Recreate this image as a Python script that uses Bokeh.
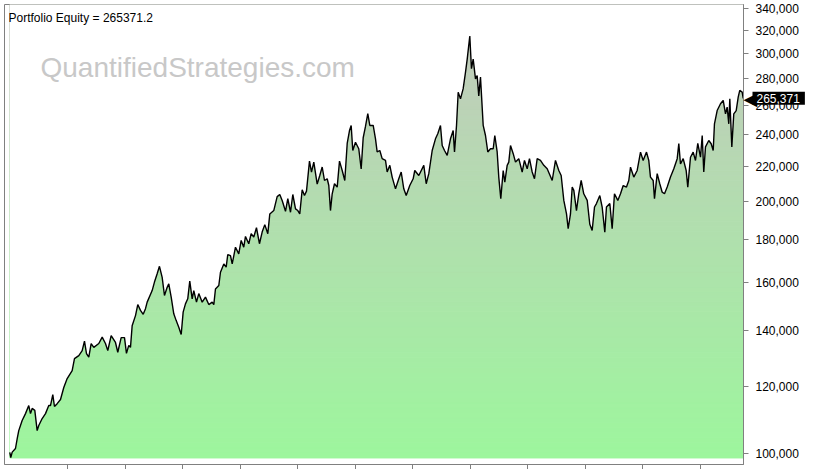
import numpy as np
from bokeh.plotting import figure
from bokeh.models import (Range1d, FixedTicker, NumeralTickFormatter, Label, Span,
                          CustomJSTickFormatter)
from bokeh.embed import file_html
from bokeh.resources import INLINE

# ---- data ----
years = [
    2010.988, 2011.005, 2011.030, 2011.087, 2011.117, 2011.144, 2011.203, 2011.261, 2011.318, 2011.348,
    2011.377, 2011.423, 2011.464, 2011.492, 2011.551, 2011.609, 2011.666, 2011.696, 2011.736, 2011.765,
    2011.812, 2011.870, 2011.927, 2011.986, 2012.073, 2012.113, 2012.188, 2012.247, 2012.287, 2012.322,
    2012.362, 2012.403, 2012.449, 2012.536, 2012.595, 2012.652, 2012.692, 2012.751, 2012.826, 2012.866,
    2012.925, 2012.983, 2013.017, 2013.057, 2013.087, 2013.116, 2013.174, 2013.214, 2013.261, 2013.308,
    2013.348, 2013.377, 2013.464, 2013.504, 2013.551, 2013.591, 2013.638, 2013.678, 2013.725, 2013.753,
    2013.795, 2013.840, 2013.882, 2013.927, 2013.969, 2014.003, 2014.043, 2014.083, 2014.118, 2014.160,
    2014.188, 2014.235, 2014.275, 2014.334, 2014.391, 2014.449, 2014.508, 2014.536, 2014.565, 2014.623,
    2014.652, 2014.710, 2014.751, 2014.779, 2014.826, 2014.856, 2014.913, 2014.970, 2015.012, 2015.057,
    2015.087, 2015.144, 2015.186, 2015.231, 2015.278, 2015.330, 2015.377, 2015.423, 2015.475, 2015.510,
    2015.579, 2015.638, 2015.683, 2015.725, 2015.783, 2015.823, 2015.870, 2015.910, 2015.957, 2015.997,
    2016.031, 2016.073, 2016.113, 2016.148, 2016.200, 2016.235, 2016.275, 2016.334, 2016.379, 2016.421,
    2016.461, 2016.508, 2016.536, 2016.565, 2016.595, 2016.635, 2016.682, 2016.722, 2016.769, 2016.814,
    2016.856, 2016.896, 2016.925, 2016.953, 2017.000, 2017.057, 2017.099, 2017.134, 2017.174, 2017.214,
    2017.249, 2017.308, 2017.348, 2017.377, 2017.423, 2017.464, 2017.522, 2017.551, 2017.597, 2017.638,
    2017.696, 2017.753, 2017.795, 2017.840, 2017.882, 2017.944, 2018.003, 2018.031, 2018.101, 2018.188,
    2018.230, 2018.275, 2018.334, 2018.391, 2018.431, 2018.478, 2018.508, 2018.548, 2018.595, 2018.652,
    2018.699, 2018.722, 2018.757, 2018.786, 2018.826, 2018.873, 2018.913, 2018.943, 2018.988, 2019.017,
    2019.047, 2019.087, 2019.116, 2019.144, 2019.174, 2019.221, 2019.261, 2019.301, 2019.348, 2019.395,
    2019.423, 2019.464, 2019.492, 2019.527, 2019.569, 2019.597, 2019.638, 2019.666, 2019.696, 2019.743,
    2019.783, 2019.840, 2019.899, 2019.939, 2019.986, 2020.026, 2020.073, 2020.113, 2020.160, 2020.217,
    2020.275, 2020.334, 2020.421, 2020.478, 2020.536, 2020.577, 2020.623, 2020.670, 2020.699, 2020.739,
    2020.769, 2020.797, 2020.843, 2020.883, 2020.925, 2020.970, 2021.030, 2021.075, 2021.116, 2021.157,
    2021.191, 2021.249, 2021.290, 2021.336, 2021.365, 2021.423, 2021.464, 2021.504, 2021.562, 2021.609,
    2021.656, 2021.713, 2021.753, 2021.783, 2021.840, 2021.899, 2021.957, 2022.003, 2022.061, 2022.101,
    2022.130, 2022.177, 2022.200, 2022.247, 2022.292, 2022.334, 2022.374, 2022.421, 2022.478, 2022.536,
    2022.595, 2022.623, 2022.652, 2022.699, 2022.751, 2022.779, 2022.826, 2022.873, 2022.913, 2022.953,
    2023.000, 2023.030, 2023.057, 2023.087, 2023.144, 2023.186, 2023.221, 2023.243, 2023.290, 2023.348,
    2023.395, 2023.435, 2023.464, 2023.492, 2023.510, 2023.545, 2023.579, 2023.621, 2023.656, 2023.683,
    2023.725, 2023.743,
]

equity_k = [
    100.2, 98.8, 100.3, 101.3, 104.1, 106.4, 109.4, 111.5, 114.0, 111.5,
    113.1, 112.5, 106.4, 107.9, 110.0, 111.5, 114.0, 114.0, 117.5, 113.7,
    114.6, 115.9, 119.8, 122.8, 125.5, 129.7, 130.8, 132.6, 136.1, 131.5,
    130.2, 135.2, 133.8, 135.2, 137.6, 135.2, 132.6, 138.2, 135.6, 132.0,
    137.4, 137.4, 131.6, 134.5, 133.8, 142.0, 146.0, 150.5, 148.1, 146.5,
    148.8, 151.5, 156.4, 160.1, 163.8, 167.2, 162.2, 154.3, 157.8, 159.3,
    153.6, 146.7, 144.0, 141.4, 138.6, 147.4, 150.8, 152.9, 160.5, 152.9,
    156.4, 151.5, 155.1, 151.5, 153.6, 150.5, 151.5, 150.5, 157.1, 158.6,
    164.5, 168.3, 166.8, 172.7, 172.2, 168.3, 176.2, 173.0, 179.5, 176.2,
    181.5, 177.9, 182.9, 181.2, 185.9, 177.9, 183.7, 187.5, 182.9, 193.1,
    194.9, 202.5, 203.7, 200.4, 194.5, 201.4, 194.0, 203.7, 195.8, 194.9,
    193.1, 206.4, 203.1, 205.6, 223.3, 216.6, 222.7, 209.6, 214.6, 219.7,
    211.7, 212.7, 208.8, 194.9, 204.1, 209.8, 207.9, 223.3, 217.6, 211.7,
    234.4, 242.9, 246.3, 229.9, 235.2, 231.0, 218.6, 238.1, 245.6, 254.5,
    246.3, 246.3, 237.4, 229.0, 229.9, 224.8, 223.7, 216.7, 220.7, 213.7,
    206.9, 212.7, 216.7, 206.9, 203.1, 208.8, 212.7, 217.6, 214.6, 220.7,
    209.8, 215.7, 229.9, 237.4, 240.7, 246.3, 233.1, 229.9, 226.8, 237.4,
    242.9, 229.0, 246.3, 269.9, 265.0, 272.5, 285.0, 295.6, 315.0, 287.9,
    295.6, 280.0, 282.6, 267.2, 281.3, 246.3, 239.6, 229.0, 231.0, 231.0,
    239.6, 229.0, 213.7, 201.4, 217.6, 210.7, 220.7, 222.7, 233.1, 227.9,
    222.7, 224.8, 216.7, 223.7, 218.6, 224.8, 216.7, 212.7, 224.8, 223.7,
    220.7, 218.6, 211.7, 223.7, 217.6, 214.6, 200.4, 193.1, 185.4, 193.1,
    207.9, 206.0, 194.9, 204.1, 211.7, 204.1, 200.4, 187.7, 184.5, 196.8,
    198.7, 203.1, 196.8, 183.6, 196.8, 198.7, 185.4, 204.1, 200.4, 204.1,
    208.8, 207.9, 211.7, 219.6, 213.7, 217.6, 228.9, 223.7, 228.9, 223.7,
    213.7, 211.7, 201.4, 215.7, 209.8, 205.0, 204.1, 207.9, 213.7, 218.6,
    224.8, 234.4, 221.5, 224.8, 217.6, 207.9, 225.7, 228.9, 223.7, 234.4,
    225.7, 239.6, 216.7, 232.2, 236.3, 234.2, 229.9, 247.4, 256.6, 261.4,
    263.8, 254.3, 259.0, 247.4, 265.0, 232.2, 254.3, 256.6, 266.2, 271.2,
    270.0, 265.3712,
]

y_ticks = [100000, 120000, 140000, 160000, 180000, 200000, 220000, 240000,
           260000, 280000, 300000, 320000, 340000]
x_ticks = list(range(2012, 2024))

equity = [v * 1000 for v in equity_k]
final_value = equity[-1]
fill_base = 98700

FRAME_W, FRAME_H = 739, 460
GREY = "#808080"
FONT = "Liberation Sans"

p = figure(frame_width=FRAME_W, frame_height=FRAME_H, y_axis_type="log",
           y_axis_location="right", title=None,
           x_range=Range1d(2010.896, 2023.748), y_range=Range1d(96940, 343500),
           output_backend="svg", toolbar_location=None,
           min_border_left=4, min_border_top=4, min_border_right=72, min_border_bottom=0,
           background_fill_color="white", border_fill_color="white",
           outline_line_color=GREY, outline_line_width=1)
p.grid.visible = False

# vertical gradient under the curve: colour bands, then a white mask above the curve
n_bands = 90
edges = np.exp(np.linspace(np.log(fill_base), np.log(p.y_range.end), n_bands + 1))
bottom_rgb = np.array([157, 246, 157])
top_rgb = np.array([196, 200, 190])
fr = (np.arange(n_bands) + 0.5) / n_bands
band_colors = ["#%02x%02x%02x" % tuple(int(round(c)) for c in bottom_rgb + f * (top_rgb - bottom_rgb)) for f in fr]
p.quad(left=years[0], right=years[-1], bottom=edges[:-1], top=edges[1:],
       fill_color=band_colors, line_color=band_colors, line_width=1)
p.varea(x=years, y1=equity, y2=p.y_range.end, fill_color="white")
p.line(years, equity, line_color="black", line_width=1.4)

# right (value) axis
yax = p.yaxis[0]
yax.ticker = FixedTicker(ticks=y_ticks)
yax.formatter = NumeralTickFormatter(format="0,0")
yax.major_tick_out = 5
yax.major_tick_in = 0
yax.minor_tick_line_color = None
yax.major_tick_line_color = GREY
yax.axis_line_color = GREY
yax.major_label_standoff = 7
yax.major_label_text_font = FONT
yax.major_label_text_font_size = "12px"
yax.major_label_text_color = "black"

# bottom (time) axis, labels fall outside the window in the reference
xax = p.xaxis[0]
xax.ticker = FixedTicker(ticks=x_ticks)
xax.formatter = CustomJSTickFormatter(code="return ''")
xax.major_label_standoff = 0
xax.major_tick_out = 5
xax.major_tick_in = 0
xax.minor_tick_line_color = None
xax.major_tick_line_color = GREY
xax.axis_line_color = GREY

x0, x1 = p.x_range.start, p.x_range.end
y1 = p.y_range.end
p.add_layout(Label(x=x0, y=y1, x_offset=4, y_offset=-13,
                   text=f"Portfolio Equity = {final_value:.1f}",
                   text_font=FONT, text_font_size="12px", text_color="black",
                   text_baseline="alphabetic"))
p.add_layout(Label(x=x0, y=y1, x_offset=36, y_offset=-63,
                   text="QuantifiedStrategies.com",
                   text_font=FONT, text_font_size="28px", text_color="#c8c8c8",
                   text_baseline="alphabetic"))

# outer border line right of the value labels (60 px right of the frame edge)
years_per_px = (x1 - x0) / FRAME_W
p.add_layout(Span(location=x1 + 60 * years_per_px, dimension="height",
                  line_color=GREY, line_width=1, level="overlay"), "right")

# last-value tag on the axis (placed in the right-hand side panel so it is not clipped)
p.add_layout(Label(x=x1, y=final_value, x_offset=0, level="overlay",
                   text="\u25c0", text_font="DejaVu Sans", text_font_size="18px",
                   text_color="black", text_baseline="middle"), "right")
p.add_layout(Label(x=x1, y=final_value, x_offset=9, level="overlay",
                   text=f"{final_value:,.0f}", text_font=FONT, text_font_size="12px",
                   text_color="white", text_baseline="middle",
                   background_fill_color="black",
                   padding=dict(left=4, right=5, top=2, bottom=2)), "right")

open("out.html", "w").write(file_html(p, INLINE))
